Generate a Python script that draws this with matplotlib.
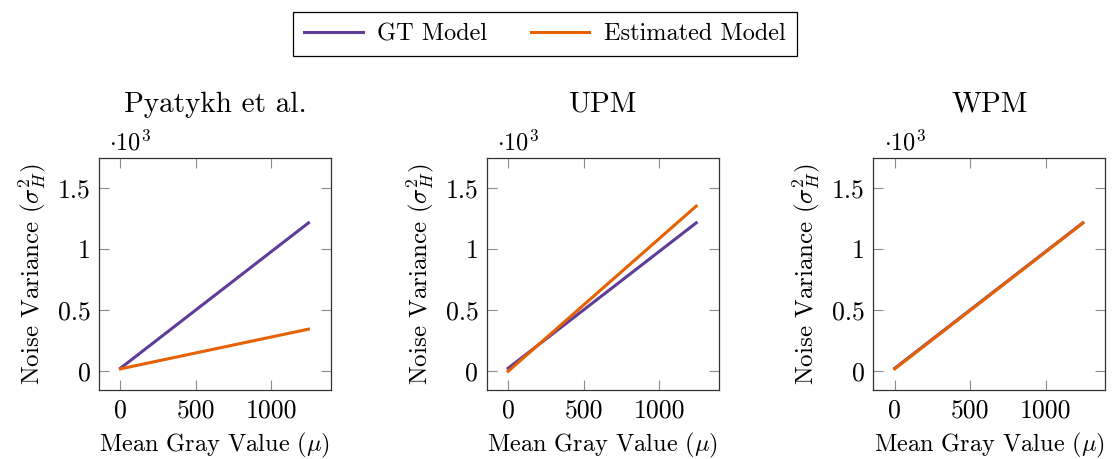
import numpy as np
import matplotlib.pyplot as plt
from matplotlib.ticker import FuncFormatter

size = 17.5
plt.rcParams.update({'font.family': 'cmr10',
                     'mathtext.fontset': 'cm',
                     'axes.unicode_minus': False,
                     'font.size': size,
                     'xtick.labelsize': 18.5,
                     'ytick.labelsize': 18.5})

titles = ["Pyatykh et al.", "UPM", "WPM"]
gray_value = [0, 1245]
gt_variance = [25, 1215]
est_variance = {
    "Pyatykh et al.": [20, 345],
    "UPM": [0, 1352],
    "WPM": [20, 1213],
}

gt_color = "#5e3c99"
est_color = "#e66101"

fig = plt.figure(figsize=(11.12, 4.59), dpi=100)
lefts = [99, 486.7, 873.3]
for i, name in enumerate(titles):
    ax = fig.add_axes([lefts[i]/1112, 69/459, 232/1112, 232.5/459])
    l1, = ax.plot(gray_value, gt_variance, color=gt_color, lw=2.2, label="GT Model")
    l2, = ax.plot(gray_value, est_variance[name], color=est_color, lw=2.2, label="Estimated Model")
    ax.set_xlim(-142, 1394)
    ax.set_ylim(-153, 1750)
    ax.set_xticks([0, 500, 1000])
    ax.set_yticks([0, 500, 1000, 1500])
    ax.yaxis.set_major_formatter(FuncFormatter(lambda v, p: f"{v/1000:g}"))
    ax.tick_params(direction='in', top=True, right=True, length=7, width=0.8,
                   color='#8c8c8c', pad=6)
    for s in ax.spines.values():
        s.set_linewidth(0.9)
        s.set_color('#333333')
    ax.set_title(name, pad=33)
    ax.set_xlabel(r"Mean Gray Value ($\mu$)", labelpad=6)
    ax.set_ylabel(r"Noise Variance ($\sigma_H^2$)", labelpad=7, fontsize=18)
    ax.text(0.045, 1.03, r"$\cdot 10^3$", transform=ax.transAxes, ha='left', va='baseline')

leg = fig.legend([l1, l2], ["GT Model", "Estimated Model"], loc='center',
                 bbox_to_anchor=(545/1112, 1 - 34/459), ncol=2, fancybox=False,
                 framealpha=1, edgecolor='black', handlelength=2.4,
                 handletextpad=0.6, columnspacing=1.8, borderpad=0.45)
leg.get_frame().set_linewidth(0.9)

plt.savefig("out.png", dpi=100)
